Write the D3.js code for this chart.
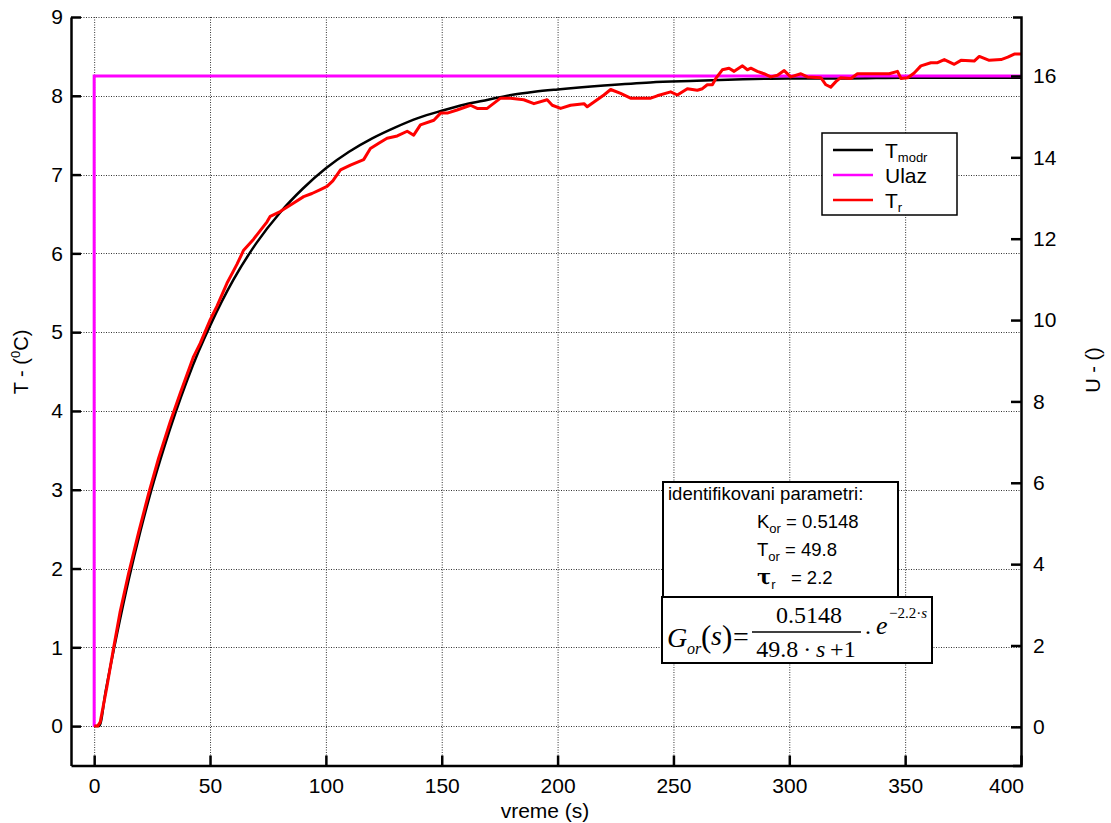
<!DOCTYPE html>
<html>
<head>
<meta charset="utf-8">
<script src="https://cdn.jsdelivr.net/npm/d3@7"></script>
<style>
  body { margin: 0; background: #fff; }
  svg { display: block; }
  text { font-family: "Liberation Sans", Arial, Helvetica, sans-serif; fill: #000; }
  .serif { font-family: "Liberation Serif", "Times New Roman", serif; }
</style>
</head>
<body>
<svg id="chart" width="1111" height="823"></svg>
<script>
// ---- tick values ----
const xTicks = [0, 50, 100, 150, 200, 250, 300, 350, 400];
const tempTicks = [0, 1, 2, 3, 4, 5, 6, 7, 8, 9];
const inputTicks = [0, 2, 4, 6, 8, 10, 12, 14, 16];

// ---- identified first-order model response T_modr (°C) ----
const modelTime = [0, 2.2, 5, 10, 15, 20, 25, 30, 35, 40, 45, 50, 60, 70, 80, 90, 100, 110, 120, 130,
  140, 150, 160, 170, 180, 190, 200, 220, 240, 260, 280, 300, 325, 350, 375, 400];
const modelTemp = [0, 0, 0.45, 1.19, 1.87, 2.48, 3.03, 3.52, 3.97, 4.38, 4.75, 5.08, 5.66, 6.13, 6.51, 6.82, 7.08, 7.29, 7.46, 7.60,
  7.72, 7.81, 7.89, 7.95, 8.01, 8.05, 8.08, 8.13, 8.17, 8.19, 8.21, 8.22, 8.22, 8.23, 8.23, 8.23];

// ---- input step Ulaz (right axis) ----
const inputTime = [0, 0, 400];
const inputValue = [0, 16, 16];

// ---- measured temperature T_r (°C) ----
const measTime = [0, 1.5, 2.6, 5.5, 8.3, 11.2, 14.8, 19.1, 23.5, 27.8, 32.8, 37.1, 42.9, 45.8, 50.1, 53, 57.3, 61.6, 64.5, 68.8,
  74.6, 76, 80.3, 81.8, 86.1, 90.4, 94, 97.6, 100.5, 103, 106.3, 110.6, 116.3, 119.2, 123, 126.4, 130.8, 135.1, 137.9, 140.8,
  146.6, 149.5, 152.4, 156.6, 162.4, 165.3, 169.6, 175.4, 179.7, 185.4, 189.8, 195.5, 197.7, 201.3, 205.6, 211.4, 212.8, 215.7, 220, 222.9,
  227.2, 231.5, 235.9, 240.2, 243, 248.8, 251.7, 256, 260.3, 262.5, 264.6, 266.8, 268.3, 271.1, 274, 276.2, 279.8, 281.9, 283.4, 286.2,
  289.1, 292, 294.9, 297.8, 300.6, 305, 307.8, 313.6, 315.8, 317.9, 320.1, 322.2, 326.6, 329.4, 335.2, 339.5, 343.1, 346.7, 348.2, 351.1,
  353.9, 356.8, 361.1, 364, 366.9, 371.2, 374.1, 379.8, 382, 386.3, 391.4, 394.3, 397.1, 400];
const measTemp = [0, 0, 0.05, 0.50, 0.98, 1.45, 1.93, 2.45, 2.95, 3.40, 3.86, 4.22, 4.69, 4.86, 5.16, 5.33, 5.62, 5.86, 6.04, 6.18,
  6.40, 6.47, 6.53, 6.56, 6.64, 6.72, 6.76, 6.81, 6.85, 6.92, 7.06, 7.12, 7.19, 7.33, 7.40, 7.46, 7.49, 7.55, 7.50, 7.63,
  7.69, 7.78, 7.78, 7.82, 7.88, 7.84, 7.84, 7.97, 7.97, 7.95, 7.90, 7.95, 7.88, 7.84, 7.88, 7.90, 7.86, 7.92, 8.01, 8.08,
  8.03, 7.97, 7.97, 7.97, 8.00, 8.05, 8.01, 8.09, 8.07, 8.09, 8.14, 8.14, 8.22, 8.33, 8.35, 8.31, 8.38, 8.33, 8.35, 8.31,
  8.28, 8.24, 8.26, 8.32, 8.24, 8.28, 8.24, 8.23, 8.14, 8.11, 8.18, 8.23, 8.22, 8.28, 8.28, 8.28, 8.28, 8.31, 8.22, 8.23,
  8.29, 8.38, 8.42, 8.42, 8.46, 8.40, 8.45, 8.44, 8.50, 8.45, 8.46, 8.49, 8.53, 8.53];

// ---- layout ----
const svg = d3.select("#chart");
const plotL = 71, plotR = 1021, plotT = 17, plotB = 765.5;

const x = d3.scaleLinear().domain([-10, 400]).range([plotL, plotR]);
const yT = d3.scaleLinear().domain([-0.5, 9]).range([plotB, plotT]);
const yU = d3.scaleLinear().domain([-0.95, 17.45]).range([plotB, plotT]);

svg.append("rect").attr("width", 1111).attr("height", 823).attr("fill", "#fff");

// dotted grid
const grid = svg.append("g").attr("stroke", "#333").attr("stroke-width", 1).attr("stroke-dasharray", "1,1.5");
grid.selectAll("line.gx").data(xTicks).join("line")
  .attr("x1", d => x(d) + 0.5).attr("x2", d => x(d) + 0.5)
  .attr("y1", plotT).attr("y2", plotB);
grid.selectAll("line.gy").data(tempTicks).join("line")
  .attr("x1", plotL).attr("x2", plotR)
  .attr("y1", d => Math.round(yT(d)) + 0.5).attr("y2", d => Math.round(yT(d)) + 0.5);

// series
const lineModel = d3.line().x((d, i) => x(modelTime[i])).y(d => yT(d)).curve(d3.curveMonotoneX);
svg.append("path").attr("d", lineModel(modelTemp))
  .attr("fill", "none").attr("stroke", "#000").attr("stroke-width", 2.5);

const lineInput = d3.line().x((d, i) => x(inputTime[i])).y(d => yU(d));
svg.append("path").attr("d", lineInput(inputValue))
  .attr("fill", "none").attr("stroke", "#ff00ff").attr("stroke-width", 3);

const lineMeas = d3.line().x((d, i) => x(measTime[i])).y(d => yT(d));
svg.append("path").attr("d", lineMeas(measTemp))
  .attr("fill", "none").attr("stroke", "#ff0000").attr("stroke-width", 3).attr("stroke-linejoin", "round");

// axes
function styleAxis(g) {
  g.selectAll("path.domain").attr("stroke", "#000").attr("stroke-width", 2.5);
  g.selectAll(".tick line").attr("stroke", "#000").attr("stroke-width", 2.5);
  g.selectAll(".tick text").attr("font-size", 21).attr("font-family", "Liberation Sans, Arial, sans-serif");
}
const xAxisG = svg.append("g").attr("transform", `translate(0,${plotB})`)
  .call(d3.axisBottom(x).tickValues(xTicks).tickSizeInner(-10).tickSizeOuter(0).tickPadding(13))
  .call(styleAxis);
// last label pulled inside the frame edge
xAxisG.selectAll(".tick").filter(d => d === 400).select("text").attr("dx", -15);
svg.append("g").attr("transform", `translate(${plotL},0)`)
  .call(d3.axisLeft(yT).tickValues(tempTicks).tickSizeInner(-10).tickSizeOuter(0).tickPadding(8))
  .call(styleAxis);
svg.append("g").attr("transform", `translate(${plotR},0)`)
  .call(d3.axisRight(yU).tickValues(inputTicks).tickSizeInner(-10).tickSizeOuter(-8).tickPadding(12))
  .call(styleAxis);

// axis titles
svg.append("text").attr("x", 545).attr("y", 818).attr("text-anchor", "middle").attr("font-size", 21).text("vreme (s)");
const tl = svg.append("text").attr("transform", "translate(28,362) rotate(-90)")
  .attr("text-anchor", "middle").attr("font-size", 20);
tl.append("tspan").text("T - (");
tl.append("tspan").attr("font-size", 13).attr("dy", -8).text("0");
tl.append("tspan").attr("dy", 8).text("C)");
svg.append("text").attr("transform", "translate(1100,370) rotate(-90)")
  .attr("text-anchor", "middle").attr("font-size", 20).text("U - ()");

// legend
const lg = svg.append("g");
lg.append("rect").attr("x", 822).attr("y", 133).attr("width", 135).attr("height", 82)
  .attr("fill", "#fff").attr("stroke", "#000").attr("stroke-width", 1.5);
const legendItems = [
  { name: "T", sub: "modr", color: "#000", y: 150 },
  { name: "Ulaz", sub: "", color: "#ff00ff", y: 175 },
  { name: "T", sub: "r", color: "#ff0000", y: 200 }
];
legendItems.forEach(it => {
  lg.append("line").attr("x1", 833).attr("x2", 873).attr("y1", it.y).attr("y2", it.y)
    .attr("stroke", it.color).attr("stroke-width", 2.5);
  const t = lg.append("text").attr("x", 885).attr("y", it.y + 7.5).attr("font-size", 21);
  t.append("tspan").text(it.name);
  if (it.sub) t.append("tspan").attr("font-size", 13).attr("dy", 4).text(it.sub);
});

// identified parameters box
const pb = svg.append("g");
pb.append("rect").attr("x", 663).attr("y", 482).attr("width", 235).attr("height", 115)
  .attr("fill", "#fff").attr("stroke", "#000").attr("stroke-width", 2);
pb.append("text").attr("x", 668).attr("y", 500).attr("font-size", 18.5).text("identifikovani parametri:");
function paramLine(y, main, sub, rest, bold) {
  const t = pb.append("text").attr("x", 757).attr("y", y).attr("font-size", 18.5);
  const m = t.append("tspan").text(main);
  if (bold) m.attr("font-weight", "bold").attr("font-size", 21).attr("font-family", "DejaVu Serif, serif");
  t.append("tspan").attr("font-size", 13).attr("dy", 5).text(sub);
  t.append("tspan").attr("dy", -5).text(rest);
}
paramLine(528, "K", "or", " = 0.5148", false);
paramLine(556, "T", "or", " = 49.8", false);
paramLine(584, "τ", "r", "\u00a0\u00a0\u00a0= 2.2", true);

// transfer function box
const fb = svg.append("g");
fb.append("rect").attr("x", 662).attr("y", 597).attr("width", 270).attr("height", 66)
  .attr("fill", "#fff").attr("stroke", "#000").attr("stroke-width", 2);
const fs = 28;
fb.append("text").attr("class", "serif").attr("x", 667).attr("y", 647).attr("font-size", fs)
  .attr("font-style", "italic").text("G");
fb.append("text").attr("class", "serif").attr("x", 687).attr("y", 654).attr("font-size", 16)
  .attr("font-style", "italic").text("or");
fb.append("text").attr("class", "serif").attr("x", 701).attr("y", 647).attr("font-size", 31).text("(");
fb.append("text").attr("class", "serif").attr("x", 711).attr("y", 645).attr("font-size", fs)
  .attr("font-style", "italic").text("s");
fb.append("text").attr("class", "serif").attr("x", 722).attr("y", 647).attr("font-size", 31).text(")");
fb.append("text").attr("class", "serif").attr("x", 733).attr("y", 646).attr("font-size", fs).text("=");
fb.append("text").attr("class", "serif").attr("x", 809).attr("y", 623).attr("font-size", 24)
  .attr("text-anchor", "middle").text("0.5148");
fb.append("line").attr("x1", 752).attr("x2", 861).attr("y1", 632).attr("y2", 632)
  .attr("stroke", "#000").attr("stroke-width", 1.3);
const den = fb.append("text").attr("class", "serif").attr("x", 806).attr("y", 657).attr("font-size", 24)
  .attr("text-anchor", "middle");
den.append("tspan").text("49.8\u2009·\u2009");
den.append("tspan").attr("font-style", "italic").text("s");
den.append("tspan").text("\u2009+1");
fb.append("text").attr("class", "serif").attr("x", 864).attr("y", 640).attr("font-size", 24).text("·");
fb.append("text").attr("class", "serif").attr("x", 876).attr("y", 634).attr("font-size", 26)
  .attr("font-style", "italic").text("e");
const ex = fb.append("text").attr("class", "serif").attr("x", 889).attr("y", 618).attr("font-size", 15);
ex.append("tspan").text("−2.2·");
ex.append("tspan").attr("font-style", "italic").text("s");
</script>
</body>
</html>
